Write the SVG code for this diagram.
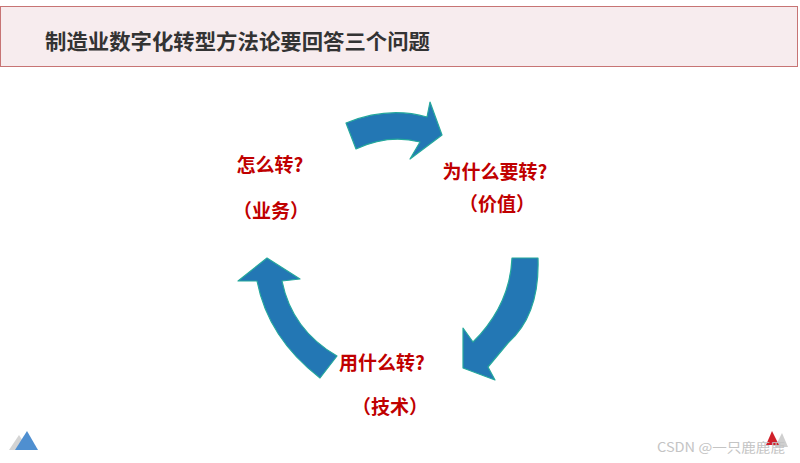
<svg xmlns="http://www.w3.org/2000/svg" width="800" height="463" viewBox="0 0 800 463">
<style>
.arrow{fill:#2377b4;stroke:#25a89c;stroke-width:1.2;stroke-linejoin:round}
.lbl{font-family:"Noto Sans CJK SC","Liberation Sans",sans-serif;font-weight:bold;fill:#c00000;font-size:19px;text-anchor:middle}
.title{font-family:"Noto Sans CJK SC","Liberation Sans",sans-serif;font-weight:bold;fill:#333333;font-size:21px}
</style>
<rect x="0" y="0" width="800" height="463" fill="#ffffff"/>
<g id="header">
<rect x="0.5" y="6.5" width="797" height="60" fill="#f7ecee" stroke="#c77474" stroke-width="1"/>
<text class="title" x="45" y="49" textLength="385" lengthAdjust="spacingAndGlyphs">制造业数字化转型方法论要回答三个问题</text>
</g>
<g id="connectors">
<path class="arrow" d="M346,123 Q388,106 427,117 L430,102 L442,135 L410,159 L420,142 Q388,134 356,149 Z"/>
<path class="arrow" d="M512,258 L538,258 Q540,315 508,343 L488,367 L495,380 L463,368 L463,328 L473,342 Q510,305 512,258 Z"/>
<path class="arrow" d="M320,378 Q268,338 257,281 L238,281 L267,258 L300,279 L282,281 Q292,330 337,356 Z"/>
</g>
<g id="node-business">
<text class="lbl" x="270" y="172">怎么转?</text>
<text class="lbl" x="271" y="218">（业务）</text>
</g>
<g id="node-value">
<text class="lbl" x="495" y="179">为什么要转?</text>
<text class="lbl" x="497" y="211">（价值）</text>
</g>
<g id="node-tech">
<text class="lbl" x="382" y="370">用什么转?</text>
<text class="lbl" x="390" y="414">（技术）</text>
</g>
<g id="corner-left">
<polygon points="9,450 19,435 29,450" fill="#d4d4d4"/>
<polygon points="15,450 27,431 38,450" fill="#4f8fd0"/>
</g>
<g id="corner-right">
<polygon points="775,447 782,433 788,447" fill="#cfcfcf"/>
<polygon points="766,445 772,431 779,445" fill="#d0202a"/>
</g>
<text x="657" y="452" font-family="'Noto Sans CJK SC','Liberation Sans',sans-serif" font-size="13" fill="#c4c4c4" textLength="128" lengthAdjust="spacingAndGlyphs">CSDN @一只鹿鹿鹿</text>
</svg>
